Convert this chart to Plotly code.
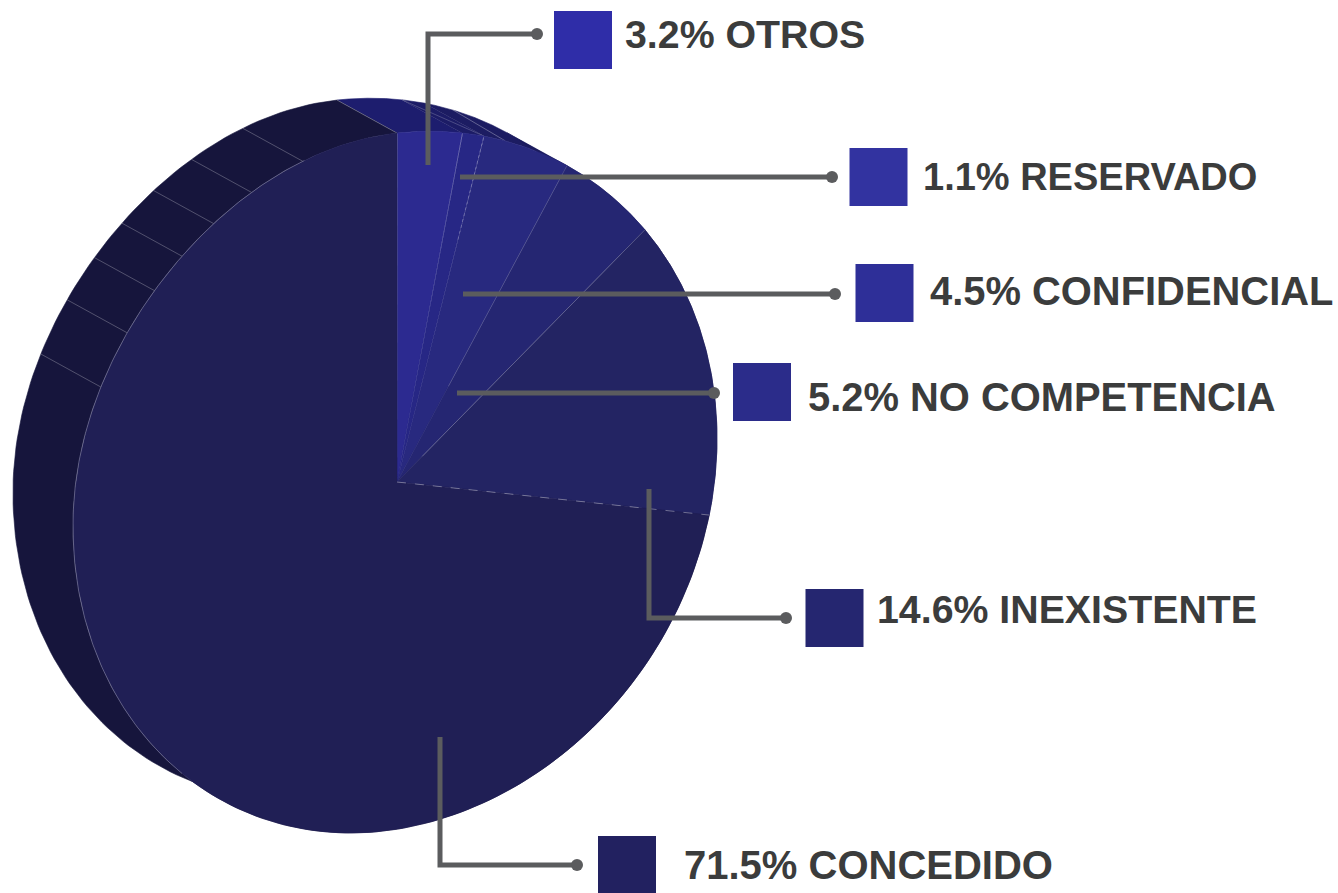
import numpy as np
import plotly.graph_objects as go

# ---- data ----
categories = ["OTROS", "RESERVADO", "CONFIDENCIAL", "NO COMPETENCIA", "INEXISTENTE", "CONCEDIDO"]
values = [3.2, 1.1, 4.5, 5.2, 14.6, 71.5]
labels = ["3.2% OTROS", "1.1% RESERVADO", "4.5% CONFIDENCIAL", "5.2% NO COMPETENCIA", "14.6% INEXISTENTE", "71.5% CONCEDIDO"]

# ---- styles ----
face_colors = ["#2c2a90", "#272785", "#28297f", "#252672", "#232463", "#201f55"]
side_colors = ["#1d1d6e", "#1c1c66", "#1c1c62", "#1b1b5c", "#191a50", "#16153c"]
square_colors = ["#2f2da8", "#3233a0", "#2e2f98", "#2b2c8a", "#252670", "#222160"]
text_color = "#3b3c3c"
leader_color = "#5b5c5e"

# ---- layout (pixel-like axes) ----
W, H = 1338, 893
depth = (-60, -33)
side_ticks = [17.3, 27.4, 35.5, 42.9, 50.0, 58.0, 67.5]   # degrees left of 12 o'clock
squares = [(583, 40), (878.5, 177), (884.5, 293), (762, 392), (834.5, 618), (627, 865)]
text_pos = [(624, 34), (922, 177), (929, 291), (807, 397), (876, 609), (683, 865)]
text_sizes = [39.3, 38.0, 39.9, 39.9, 39.3, 40.0]
leaders = [
    ([428, 428, 537], [165, 34, 34]),
    ([460, 832], [177, 177]),
    ([463, 835], [294, 294]),
    ([457, 714], [393, 393]),
    ([649, 649, 786], [489, 618, 618]),
    ([440, 440, 577], [737, 865, 865]),
]


def project(deg, r=1.0):
    t = np.radians(np.asarray(deg, dtype=float))
    pinch = np.where((np.sin(t) < 0) & (np.cos(t) > 0), 1 - 0.018 * np.sin(2 * t) ** 2, 1.0)
    u = r * pinch * np.sin(t)
    v = r * pinch * np.cos(t)
    u = np.where(u < 0, u * 0.965, u)
    v = np.where(v < 0, v * 0.996, v)
    w = 0.0245 * u - 0.00049 * v + 1
    return (337.6 * u - 0.19 * v + 397) / w, (-32.75 * u - 349.0 * v + 482) / w


edges = np.concatenate([[0], np.cumsum(values)]) / sum(values) * 360.0
fig = go.Figure()


def poly(x, y, color, line_width=0.6):
    fig.add_trace(go.Scatter(
        x=list(x), y=list(y), mode="lines", fill="toself", fillcolor=color,
        line=dict(color=color, width=line_width),
        hoverinfo="skip", showlegend=False))


def seam(x, y, color, width=0.8, dash="solid"):
    fig.add_trace(go.Scatter(x=[float(p) for p in x], y=[float(p) for p in y], mode="lines",
                             line=dict(color=color, width=width, dash=dash),
                             hoverinfo="skip", showlegend=False))


def back(deg):
    fx, fy = project(deg)
    return fx + depth[0], fy + depth[1]


# extruded side, one band per slice
for i in range(len(values)):
    a = np.linspace(edges[i], edges[i + 1], 200)
    fx, fy = project(a)
    poly(np.r_[fx, (fx + depth[0])[::-1]], np.r_[fy, (fy + depth[1])[::-1]], side_colors[i])

# thin seams on the side
for d in side_ticks:
    fx, fy = project(-d)
    bx, by = back(-d)
    seam([fx, bx], [fy, by], "rgba(255,255,255,0.32)", 0.8)
fx, fy = project(edges[0])
bx, by = back(edges[0])
seam([fx, bx], [fy, by], "rgba(255,255,255,0.38)", 0.7)
fx, fy = project(edges[2])
bx, by = back(edges[1])
seam([fx, bx], [fy, by], "rgba(255,255,255,0.30)", 0.7)
fx, fy = project(edges[2] + 4)
bx, by = back(edges[2] + 5.5)
seam([fx, bx], [fy, by], "rgba(255,255,255,0.38)", 0.8)

# front face
cx, cy = project(0, 0)
for i in range(len(values)):
    a = np.linspace(edges[i], edges[i + 1], 240)
    fx, fy = project(a)
    poly(np.r_[cx, fx, cx], np.r_[cy, fy, cy], face_colors[i])

# rim of the largest slice where it lies against the side, and seams on the face
a = np.linspace(222, 343, 240)
fx, fy = project(a)
seam(fx, fy, "rgba(255,255,255,0.30)", 0.9)
face_seams = [(2, 0.7, 0.30, "dot"), (3, 0.3, 0.22, "solid"), (4, 0.1, 0.32, "solid")]
for idx, r0, alpha, dash in face_seams:
    x1, y1 = project(edges[idx])
    x0, y0 = project(edges[idx], r0)
    seam([x0, x1], [y0, y1], f"rgba(255,255,255,{alpha})", 0.8, dash)
x1, y1 = project(edges[5])
seam([cx, x1], [cy, y1], "rgba(255,255,255,0.40)", 0.9, "dash")

# leader lines
for lx, ly in leaders:
    sizes = [0] * (len(lx) - 1) + [12]
    fig.add_trace(go.Scatter(x=lx, y=ly, mode="lines+markers",
                             line=dict(color=leader_color, width=5),
                             marker=dict(color=leader_color, size=sizes, opacity=1, line=dict(width=0)),
                             hoverinfo="skip", showlegend=False))

# legend squares
fig.add_trace(go.Scatter(x=[s[0] for s in squares], y=[s[1] for s in squares], mode="markers",
                         marker=dict(symbol="square", size=58, color=square_colors, opacity=1, line=dict(width=0)),
                         hoverinfo="skip", showlegend=False))

for lab, (tx, ty), fs in zip(labels, text_pos, text_sizes):
    fig.add_annotation(x=tx, y=ty, text=f"<b>{lab}</b>", showarrow=False, xanchor="left", yanchor="middle",
                       borderpad=0, font=dict(family="Liberation Sans", size=fs, color=text_color))

axis = dict(visible=False, fixedrange=True)
fig.update_layout(width=W, height=H, margin=dict(l=0, r=0, t=0, b=0),
                  paper_bgcolor="white", plot_bgcolor="white", showlegend=False,
                  xaxis=dict(range=[0, W], **axis), yaxis=dict(range=[H, 0], **axis))
fig.write_html("out.html", config={"displayModeBar": False},
               post_script="document.body.style.margin='0';document.body.style.overflow='hidden';")
